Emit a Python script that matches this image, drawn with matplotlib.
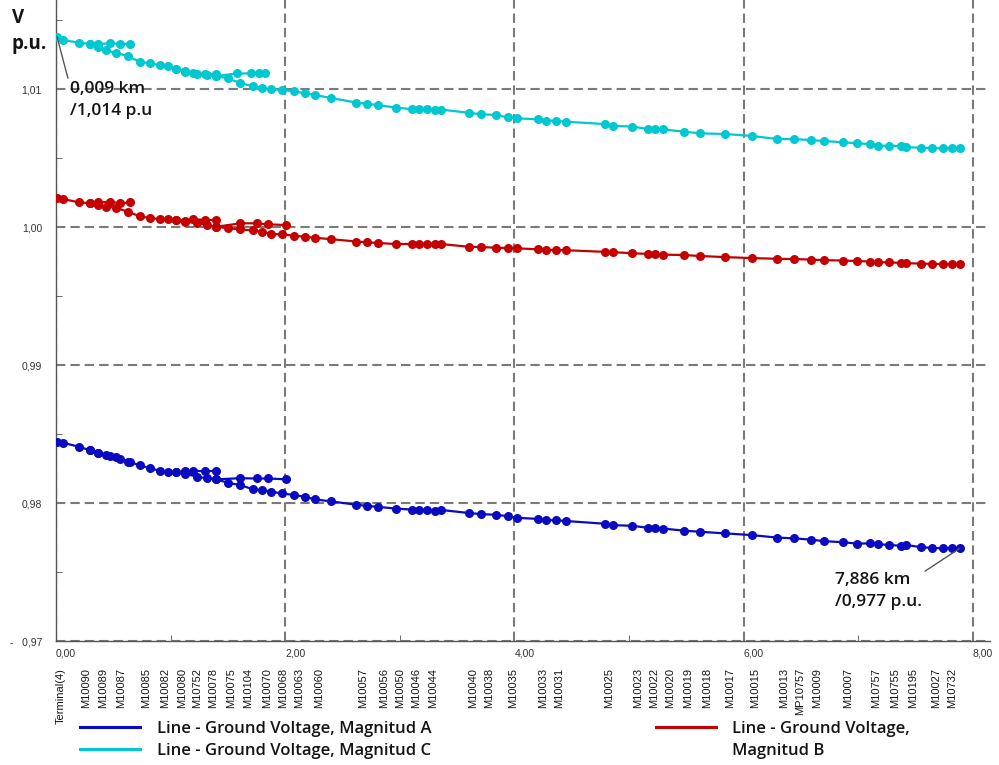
import numpy as np
import matplotlib
matplotlib.use("Agg")
import matplotlib.pyplot as plt
from matplotlib.lines import Line2D
from matplotlib.ticker import MultipleLocator

# ---------------- Feeder profile data ----------------
# distance from the terminal along the main feeder (km)
dist_main = [0.009, 0.06, 0.20, 0.30, 0.37, 0.44, 0.52, 0.63, 0.73, 0.82, 0.91, 0.98,
             1.05, 1.13, 1.23, 1.32, 1.40, 1.50, 1.61, 1.72, 1.80, 1.88, 1.97, 2.08,
             2.17, 2.26, 2.40, 2.62, 2.71, 2.81, 2.97, 3.11, 3.17, 3.24, 3.31, 3.36,
             3.60, 3.71, 3.84, 3.94, 4.02, 4.21, 4.28, 4.36, 4.45, 4.79, 4.86, 5.03,
             5.17, 5.23, 5.30, 5.48, 5.62, 5.84, 6.07, 6.29, 6.44, 6.59, 6.70, 6.87,
             6.99, 7.10, 7.17, 7.27, 7.37, 7.42, 7.55, 7.64, 7.74, 7.82, 7.886]

volt_a = [0.98444, 0.98437, 0.98408, 0.98382, 0.98362, 0.98348, 0.98331, 0.98299, 0.98275,
          0.98251, 0.98234, 0.98227, 0.98222, 0.98212, 0.98191, 0.98179, 0.98172, 0.98147,
          0.98130, 0.98099, 0.98094, 0.98082, 0.98070, 0.98058, 0.98046, 0.98027, 0.98012,
          0.97988, 0.97980, 0.97972, 0.97960, 0.97952, 0.97950, 0.97949, 0.97946, 0.97950,
          0.97928, 0.97920, 0.97915, 0.97905, 0.97893, 0.97885, 0.97877, 0.97875, 0.97870,
          0.97850, 0.97840, 0.97835, 0.97820, 0.97818, 0.97815, 0.97800, 0.97792, 0.97780,
          0.97768, 0.97750, 0.97744, 0.97735, 0.97724, 0.97716, 0.97706, 0.97708, 0.97703,
          0.97696, 0.97691, 0.97696, 0.97680, 0.97675, 0.97672, 0.97672, 0.97672]

volt_b = [1.00208, 1.00203, 1.00179, 1.00172, 1.00160, 1.00147, 1.00140, 1.00111, 1.00078,
          1.00065, 1.00058, 1.00056, 1.00051, 1.00038, 1.00030, 1.00012, 1.00002, 0.99991,
          0.99983, 0.99975, 0.99966, 0.99950, 0.99947, 0.99937, 0.99930, 0.99922, 0.99912,
          0.99895, 0.99890, 0.99884, 0.99877, 0.99877, 0.99877, 0.99876, 0.99875, 0.99877,
          0.99857, 0.99855, 0.99850, 0.99848, 0.99846, 0.99838, 0.99835, 0.99833, 0.99832,
          0.99820, 0.99818, 0.99810, 0.99805, 0.99803, 0.99800, 0.99797, 0.99790, 0.99782,
          0.99775, 0.99770, 0.99768, 0.99764, 0.99760, 0.99757, 0.99754, 0.99750, 0.99746,
          0.99744, 0.99740, 0.99738, 0.99735, 0.99733, 0.99732, 0.99732, 0.99732]

volt_c = [1.01380, 1.01355, 1.01336, 1.01326, 1.01305, 1.01280, 1.01262, 1.01238, 1.01198,
          1.01186, 1.01172, 1.01165, 1.01148, 1.01125, 1.01109, 1.01101, 1.01094, 1.01077,
          1.01043, 1.01020, 1.01008, 1.00998, 1.00994, 1.00983, 1.00969, 1.00957, 1.00935,
          1.00902, 1.00893, 1.00884, 1.00865, 1.00853, 1.00853, 1.00852, 1.00848, 1.00851,
          1.00828, 1.00817, 1.00812, 1.00795, 1.00788, 1.00780, 1.00771, 1.00770, 1.00763,
          1.00746, 1.00734, 1.00727, 1.00710, 1.00708, 1.00707, 1.00691, 1.00679, 1.00674,
          1.00660, 1.00638, 1.00637, 1.00630, 1.00623, 1.00614, 1.00607, 1.00601, 1.00589,
          1.00589, 1.00587, 1.00578, 1.00575, 1.00572, 1.00571, 1.00570, 1.00570]

# laterals branching off the main feeder: [distances], [voltages]
lat1_km = [0.30, 0.37, 0.47, 0.56, 0.65]
lat1_a = [0.98382, 0.98362, 0.98342, 0.98320, 0.98296]
lat1_b = [1.00172, 1.00179, 1.00183, 1.00172, 1.00179]
lat1_c = [1.01326, 1.01326, 1.01331, 1.01328, 1.01326]

lat2_km = [1.05, 1.13, 1.20, 1.30, 1.40]
lat2_a = [0.98222, 0.98232, 0.98234, 0.98230, 0.98234]
lat2_b = [1.00051, 1.00045, 1.00058, 1.00050, 1.00051]
lat2_c = [1.01148, 1.01128, 1.01115, 1.01110, 1.01108]

lat3_km = [1.40, 1.61, 1.75, 1.85, 2.01]
lat3_a = [0.98172, 0.98180, 0.98178, 0.98178, 0.98172]
lat3_b = [1.00002, 1.00027, 1.00027, 1.00020, 1.00014]
lat3c_km = [1.40, 1.58, 1.70, 1.77, 1.82]
lat3_c = [1.01094, 1.01113, 1.01113, 1.01113, 1.01113]

# node names printed under the distance axis
node_names = ["Terminal(4)", "M10090", "M10089", "M10087", "M10085", "M10082", "M10080",
              "M10752", "M10078", "M10075", "M10104", "M10070", "M10068", "M10063",
              "M10060", "M10057", "M10056", "M10050", "M10046", "M10044", "M10040",
              "M10038", "M10035", "M10033", "M10031", "M10025", "M10023", "M10022",
              "M10020", "M10019", "M10018", "M10017", "M10015", "M10013", "MP10757",
              "M10009", "M10007", "M10757", "M10755", "M10195", "M10027", "M10732"]
node_km = [0.04, 0.26, 0.41, 0.57, 0.79, 0.95, 1.10, 1.23, 1.37, 1.53, 1.68, 1.84, 1.98,
           2.12, 2.30, 2.68, 2.86, 3.00, 3.14, 3.29, 3.64, 3.78, 3.99, 4.25, 4.39, 4.83,
           5.08, 5.22, 5.36, 5.52, 5.68, 5.88, 6.10, 6.35, 6.49, 6.64, 6.91, 7.16, 7.32,
           7.48, 7.68, 7.82]

x_ticks = [0, 2, 4, 6, 8]
x_tick_labels = ["0,00", "2,00", "4,00", "6,00", "8,00"]
y_ticks = [0.97, 0.98, 0.99, 1.00, 1.01]
y_tick_labels = ["-   0,97", "0,98", "0,99", "1,00", "1,01"]

COL_A = "#0a0ac0"
COL_B = "#c40000"
COL_C = "#00c8d0"
TXT = "#141414"
LEG_FONT = ["Open Sans", "DejaVu Sans"]

fig = plt.figure(figsize=(9.99, 7.65), dpi=100)
ax = fig.add_axes([0.056, 0.162, 0.935, 0.838])

style = dict(lw=1.6, marker="o", ms=6.5, mew=0, zorder=3)
phases = [
    (COL_B, volt_b, [(lat1_km, lat1_b), (lat2_km, lat2_b), (lat3_km, lat3_b)]),
    (COL_C, volt_c, [(lat1_km, lat1_c), (lat2_km, lat2_c), (lat3c_km, lat3_c)]),
    (COL_A, volt_a, [(lat1_km, lat1_a), (lat2_km, lat2_a), (lat3_km, lat3_a)]),
]
for col, volts, laterals in phases:
    ax.plot(dist_main, volts, color=col, **style)
    for lx, lv in laterals:
        ax.plot(lx, lv, color=col, **style)

ax.set_xlim(0, 8.15)
ax.set_ylim(0.97, 1.01645)

ax.set_xticks(x_ticks, x_tick_labels)
ax.set_yticks(y_ticks, y_tick_labels)
ax.xaxis.set_minor_locator(MultipleLocator(1))
ax.yaxis.set_minor_locator(MultipleLocator(0.005))
ax.tick_params(which="major", length=0, labelsize=7.5, labelcolor="#333333")
ax.tick_params(axis="x", which="major", pad=5)
ax.tick_params(axis="y", which="major", pad=10)
ax.tick_params(which="minor", direction="in", length=4, color="#555555")
for lbl in ax.get_xticklabels():
    lbl.set_ha("left")
    lbl.set_fontfamily("Liberation Sans")
for lbl in ax.get_yticklabels():
    lbl.set_fontfamily("Liberation Sans")

ax.grid(True, which="major", color="#7a7a7a", lw=1.5, linestyle=(0, (4.5, 2.4)))
for side in ["top", "right"]:
    ax.spines[side].set_visible(False)
for side in ["left", "bottom"]:
    ax.spines[side].set_color("#555555")
    ax.spines[side].set_linewidth(1.0)

# node names, rotated, hanging under the tick labels
for name, km in zip(node_names, node_km):
    ax.text(km, -0.042, name, transform=ax.get_xaxis_transform(), rotation=90,
            ha="center", va="top", fontsize=8, color=TXT, family="Liberation Sans")

# axis unit label
fig.text(0.012, 0.990, "V\np.u.", ha="left", va="top", fontsize=13.5,
         color=TXT, family=LEG_FONT, weight="bold", linespacing=1.45)

# start / end point annotations
ax.annotate("0,009 km\n/1,014 p.u", xy=(dist_main[0], volt_c[0]), xytext=(0.12, 1.0092),
            ha="left", va="center", fontsize=12.5, color=TXT, family=LEG_FONT,
            weight="semibold", linespacing=1.5,
            arrowprops=dict(arrowstyle="-", color="#555555", lw=1, relpos=(0.0, 0.9),
                            shrinkA=0, shrinkB=0))
ax.annotate("7,886 km\n/0,977 p.u.", xy=(dist_main[-1], volt_a[-1]), xytext=(6.8, 0.97364),
            ha="left", va="center", fontsize=12.5, color=TXT, family=LEG_FONT,
            weight="semibold", linespacing=1.5,
            arrowprops=dict(arrowstyle="-", color="#555555", lw=1, relpos=(0.92, 0.85),
                            shrinkA=0, shrinkB=0))

# legend below the chart
leg_font = dict(family=LEG_FONT, size=12, weight="semibold")
h_a = Line2D([], [], color=COL_A, lw=2.2)
h_b = Line2D([], [], color=COL_B, lw=2.2)
h_c = Line2D([], [], color=COL_C, lw=2.2)
h_blank = Line2D([], [], color="none")
leg_kw = dict(loc="upper left", frameon=False, prop=leg_font, handlelength=3.6,
              handletextpad=1.0, labelspacing=0.38, borderpad=0, labelcolor=TXT)
leg1 = fig.legend([h_a, h_c], ["Line - Ground Voltage, Magnitud A",
                               "Line - Ground Voltage, Magnitud C"],
                  bbox_to_anchor=(0.072, 0.069), **leg_kw)
leg2 = fig.legend([h_b, h_blank], ["Line - Ground Voltage,", "Magnitud B"],
                  bbox_to_anchor=(0.648, 0.069), **leg_kw)

fig.savefig("out.png", dpi=100)
